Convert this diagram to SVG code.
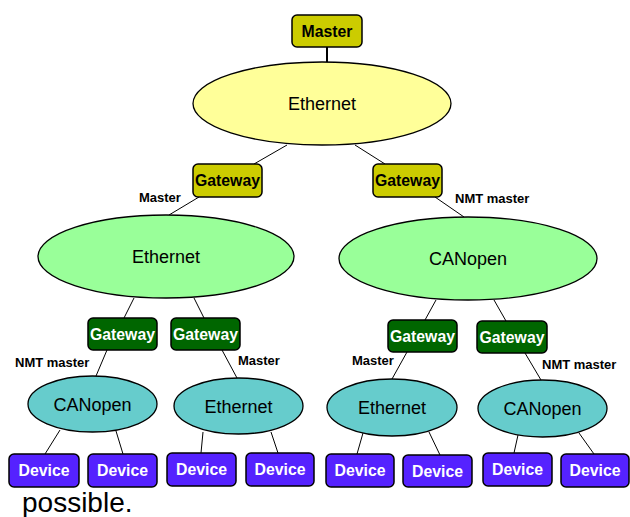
<svg xmlns="http://www.w3.org/2000/svg" width="630" height="517" viewBox="0 0 630 517">
<style>
.box{stroke:#000;stroke-width:1.5}
.y{fill:#cccc00}
.g{fill:#006600}
.d{fill:#5522ff}
.e1{fill:#ffff99;stroke:#000;stroke-width:1.3}
.e2{fill:#99ff99;stroke:#000;stroke-width:1.3}
.e3{fill:#66cccc;stroke:#000;stroke-width:1.3}
.bt{font-family:"Liberation Sans",Arial,sans-serif;font-weight:bold;font-size:15.8px;text-anchor:middle}
.bk{fill:#000}
.wt{fill:#fff}
.et{font-family:"Liberation Sans",Arial,sans-serif;font-size:18px;text-anchor:middle;fill:#000}
.lb{font-family:"Liberation Sans",Arial,sans-serif;font-weight:bold;font-size:13px;fill:#000}
.c line{stroke:#000;stroke-width:1}
</style>
<rect width="630" height="517" fill="#fff"/>
<g class="c" id="connectors">
<line x1="327" y1="47" x2="327" y2="62" style="stroke-width:2"/>
<line x1="287" y1="145" x2="254" y2="164"/>
<line x1="355" y1="145" x2="385" y2="164"/>
<line x1="199" y1="197" x2="169" y2="215"/>
<line x1="435" y1="197" x2="464" y2="217"/>
<line x1="134" y1="298" x2="124" y2="318"/>
<line x1="194" y1="298" x2="204" y2="318"/>
<line x1="436" y1="300" x2="425" y2="320"/>
<line x1="494" y1="300" x2="506" y2="321"/>
<line x1="107" y1="350" x2="96" y2="376"/>
<line x1="222" y1="350" x2="237" y2="378"/>
<line x1="407" y1="352" x2="392" y2="379"/>
<line x1="525" y1="353" x2="541" y2="380"/>
<line x1="60" y1="430" x2="45" y2="454"/>
<line x1="116" y1="431" x2="123" y2="454"/>
<line x1="203" y1="432" x2="201" y2="453"/>
<line x1="271" y1="432" x2="278" y2="453"/>
<line x1="363" y1="433" x2="357" y2="454"/>
<line x1="429" y1="432" x2="440" y2="455"/>
<line x1="518" y1="435" x2="514" y2="453"/>
<line x1="579" y1="433" x2="594" y2="454"/>
</g>
<g id="master"><rect class="box y" x="292" y="15" width="70" height="32" rx="5"/><text class="bt bk" x="327" y="36.5">Master</text></g>
<g id="eth-top"><ellipse class="e1" cx="322" cy="103.5" rx="129" ry="41.5"/><text class="et" x="322" y="110">Ethernet</text></g>
<g id="gw-l"><rect class="box y" x="193" y="164" width="69" height="33" rx="5"/><text class="bt bk" x="227.5" y="186">Gateway</text></g>
<g id="gw-r"><rect class="box y" x="373" y="164" width="69" height="33" rx="5"/><text class="bt bk" x="407.5" y="186">Gateway</text></g>
<text class="lb" x="139" y="202">Master</text>
<text class="lb" x="455" y="203">NMT master</text>
<g id="eth-l"><ellipse class="e2" cx="166" cy="256.5" rx="128" ry="41.5"/><text class="et" x="166" y="263">Ethernet</text></g>
<g id="can-r"><ellipse class="e2" cx="468" cy="258.5" rx="129" ry="41.5"/><text class="et" x="468" y="265">CANopen</text></g>
<g id="gw-l1"><rect class="box g" x="88" y="318" width="69" height="32" rx="5"/><text class="bt wt" x="122.5" y="339.5">Gateway</text></g>
<g id="gw-l2"><rect class="box g" x="171" y="318" width="69" height="32" rx="5"/><text class="bt wt" x="205.5" y="339.5">Gateway</text></g>
<g id="gw-r1"><rect class="box g" x="388" y="320" width="69" height="32" rx="5"/><text class="bt wt" x="422.5" y="341.5">Gateway</text></g>
<g id="gw-r2"><rect class="box g" x="477" y="321" width="70" height="32" rx="5"/><text class="bt wt" x="512" y="342.5">Gateway</text></g>
<text class="lb" x="15" y="367">NMT master</text>
<text class="lb" x="238" y="365">Master</text>
<text class="lb" x="352" y="365">Master</text>
<text class="lb" x="542" y="369">NMT master</text>
<g id="can-1"><ellipse class="e3" cx="92.5" cy="404" rx="64.5" ry="28"/><text class="et" x="92.5" y="410.5">CANopen</text></g>
<g id="eth-2"><ellipse class="e3" cx="238.5" cy="406" rx="64.5" ry="28"/><text class="et" x="238.5" y="412.5">Ethernet</text></g>
<g id="eth-3"><ellipse class="e3" cx="392" cy="407.5" rx="65" ry="28.5"/><text class="et" x="392" y="414">Ethernet</text></g>
<g id="can-4"><ellipse class="e3" cx="542.5" cy="408.5" rx="64.5" ry="28.5"/><text class="et" x="542.5" y="415">CANopen</text></g>
<g id="dev1"><rect class="box d" x="9" y="454" width="70" height="33" rx="5"/><text class="bt wt" x="44" y="476">Device</text></g>
<g id="dev2"><rect class="box d" x="88" y="454" width="69" height="33" rx="5"/><text class="bt wt" x="122.5" y="476">Device</text></g>
<g id="dev3"><rect class="box d" x="167" y="453" width="69" height="33" rx="5"/><text class="bt wt" x="201.5" y="475">Device</text></g>
<g id="dev4"><rect class="box d" x="246" y="453" width="68" height="33" rx="5"/><text class="bt wt" x="280" y="475">Device</text></g>
<g id="dev5"><rect class="box d" x="326" y="454" width="68" height="33" rx="5"/><text class="bt wt" x="360" y="476">Device</text></g>
<g id="dev6"><rect class="box d" x="403" y="455" width="69" height="32" rx="5"/><text class="bt wt" x="437.5" y="476.5">Device</text></g>
<g id="dev7"><rect class="box d" x="483" y="453" width="69" height="33" rx="5"/><text class="bt wt" x="517.5" y="475">Device</text></g>
<g id="dev8"><rect class="box d" x="561" y="454" width="68" height="33" rx="5"/><text class="bt wt" x="595" y="476">Device</text></g>
<text x="22" y="512" style="font-family:'Liberation Sans',Arial,sans-serif;font-size:28px;fill:#000">possible.</text>
</svg>
